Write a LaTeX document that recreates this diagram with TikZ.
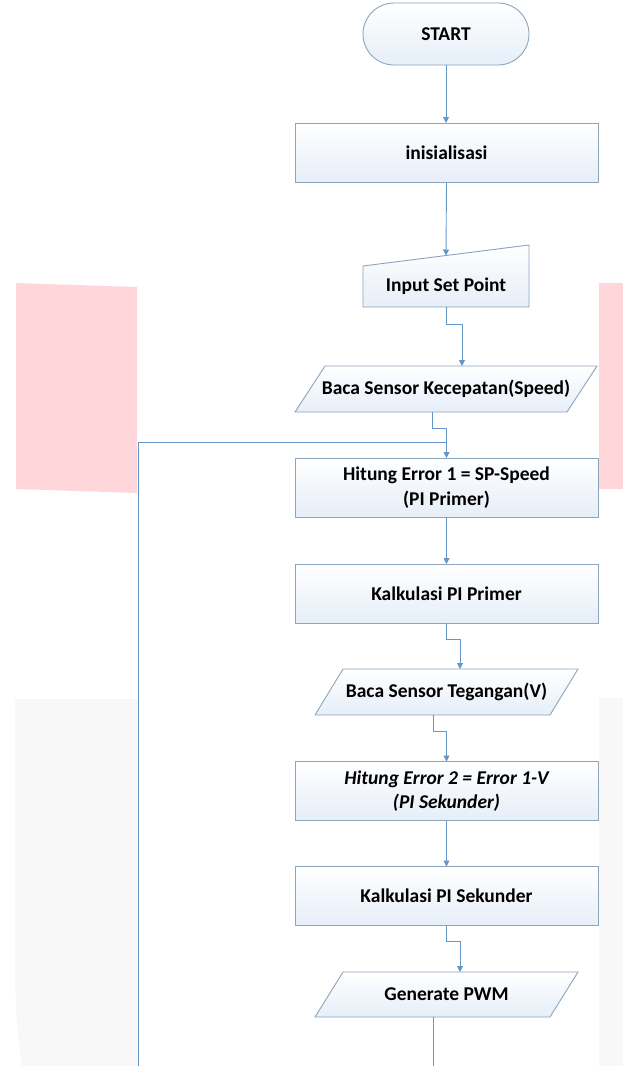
\documentclass[tikz,border=0pt]{standalone}
\usepackage{fontspec}
\setmainfont{Carlito}
\usetikzlibrary{arrows.meta,calc}
\definecolor{edge}{RGB}{140,164,188}
\definecolor{wire}{RGB}{100,150,200}
\definecolor{fillb}{RGB}{230,238,248}
\definecolor{pinkbg}{RGB}{255,215,219}
\definecolor{graybg}{RGB}{248,248,248}
\tikzset{
  shapebox/.style={draw=edge,line width=0.9pt,top color=white,bottom color=fillb},
  lbl/.style={inner sep=0pt,outer sep=0pt,font=\fontsize{19.5}{24.5}\selectfont\bfseries,align=center},
  procbox/.style={shapebox,rectangle,minimum width=303pt,minimum height=59pt,lbl},
  conn/.style={draw=wire,line width=0.9pt},
  arr/.style={conn,-{Triangle[width=6pt,length=6pt]}}
}
\begin{document}
\begin{tikzpicture}[x=1pt,y=-1pt]
\useasboundingbox (0,0) rectangle (623,1066);
% backgrounds
\fill[pinkbg] (16,283) -- (137,287) -- (137,493) -- (16,489) -- cycle;
\fill[pinkbg] (599,283) -- (623,283) -- (623,489) -- (599,489) -- cycle;
\fill[graybg] (15,699) -- (138,699) -- (138,1066) -- (22,1066) .. controls (17,1030) .. (15,980) -- cycle;
\fill[graybg] (599,698) -- (623,698) -- (623,1066) -- (599,1066) -- cycle;
% START
\node[shapebox,rectangle,rounded corners=31pt,minimum width=166pt,minimum height=62pt,lbl] (start) at (446,34) {START};
% inisialisasi
\node[procbox] (init) at (446.5,152.5) {inisialisasi};
% manual input
\path[shapebox] (363,266) -- (529,245) -- (529,307) -- (363,307) -- cycle;
\node[lbl,minimum width=166pt,minimum height=41pt] (inp) at (446,286.5) {Input Set Point};
\coordinate (inpTop) at (446,255.5);
% speed
\path[shapebox] (295,412) -- (325,366) -- (597,366) -- (567,412) -- cycle;
\node[lbl,minimum width=272pt,minimum height=46pt] (spd) at (446,389) {Baca Sensor Kecepatan(Speed)};
% error 1
\node[procbox] (err1) at (446.5,487.5) {Hitung Error 1 = SP-Speed\\(PI Primer)};
% kalkulasi 1
\node[procbox] (kal1) at (446.5,593.5) {Kalkulasi PI Primer};
% tegangan
\path[shapebox] (315,715) -- (343,669) -- (578,669) -- (550,715) -- cycle;
\node[lbl,minimum width=263pt,minimum height=46pt] (teg) at (446.5,692) {Baca Sensor Tegangan(V)};
% error 2
\node[procbox,font=\fontsize{19.5}{24.5}\selectfont\bfseries\itshape] (err2) at (446.5,791) {Hitung Error 2 = Error 1-V\\(PI Sekunder)};
% kalkulasi 2
\node[procbox] (kal2) at (446.5,896) {Kalkulasi PI Sekunder};
% PWM
\path[shapebox] (315,1017) -- (343,972) -- (578,972) -- (550,1017) -- cycle;
\node[lbl,minimum width=263pt,minimum height=45pt] (pwm) at (446.5,994.5) {Generate PWM};
% free ends
\coordinate (pwmEnd) at (433,1066);
\coordinate (loopEnd) at (138,1066);
% connectors
\draw[arr] (start.south) -- (start.south |- init.north);
\draw[arr] (init.south) -- (inpTop);
\draw[arr] (inp.south) -- ++(0,17) -| ([xshift=16pt]spd.north);
\draw[arr] ([xshift=-14pt]spd.south) -- ++(0,16) -| (err1.north);
\draw[conn] (loopEnd) |- ($(err1.north)+(0,-16)$);
\draw[arr] (err1.south) -- (kal1.north);
\draw[arr] (kal1.south) -- ++(0,16) -| ([xshift=13.5pt]teg.north);
\draw[arr] ([xshift=-13.5pt]teg.south) -- ++(0,16) -| (err2.north);
\draw[arr] (err2.south) -- (kal2.north);
\draw[arr] (kal2.south) -- ++(0,16) -| ([xshift=13.5pt]pwm.north);
\draw[conn] ([xshift=-13.5pt]pwm.south) -- (pwmEnd);
\end{tikzpicture}
\end{document}
